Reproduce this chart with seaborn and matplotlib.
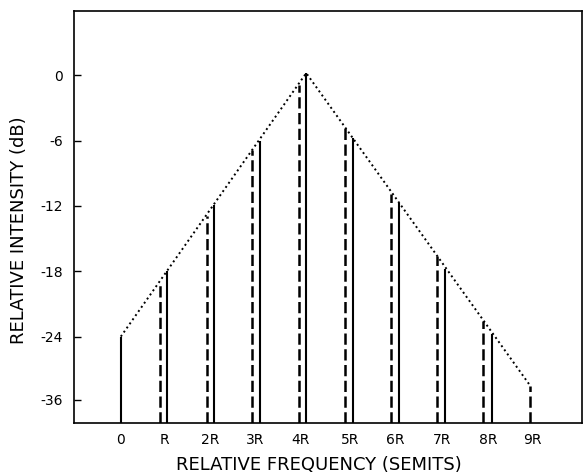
import numpy as np
import pandas as pd
import seaborn as sns
import matplotlib
matplotlib.use("Agg")
import matplotlib.pyplot as plt

# partial positions (in units of R) and levels in dB
solid_x = [0, 1, 2, 3, 4, 5, 6, 7, 8]
solid_db = [-24, -18, -11.9, -6, 0.2, -5.8, -11.7, -17.8, -23.8]
dashed_x = [0.84, 1.85, 2.84, 3.84, 4.83, 5.83, 6.83, 7.82, 8.83]
dashed_db = [-19, -12.9, -6.9, -0.9, -4.7, -10.9, -16.6, -22.6, -33.3]

# dotted envelope
env_x = [0, 4, 8.83]
env_db = [-24, 0.2, -33.3]

ytick_vals = [0, -6, -12, -18, -24, -36]
xtick_pos = [0, 0.95, 1.92, 2.9, 3.88, 4.95, 5.93, 6.92, 7.92, 8.87]
xtick_labels = ["0", "R", "2R", "3R", "4R", "5R", "6R", "7R", "8R", "9R"]

sns.set_theme(style="white")
plt.rcParams['font.family'] = ['DejaVu Sans']
plt.rcParams['text.color'] = 'black'
plt.rcParams['axes.labelcolor'] = 'black'
plt.rcParams['xtick.color'] = 'black'
plt.rcParams['ytick.color'] = 'black'

# broken axis below -24 dB (the -36 tick sits closer than linear)
k = 0.484


def fwd(y):
    y = np.asarray(y, dtype=float)
    return np.where(y >= -24, y, -24 + (y + 24) * k)


def inv(y):
    y = np.asarray(y, dtype=float)
    return np.where(y >= -24, y, -24 + (y + 24) / k)


fig = plt.figure(figsize=(5.85, 4.74), dpi=100)
ax = fig.add_axes([0.1265, 0.1076, 0.8684, 0.8692])
ax.set_yscale("function", functions=(fwd, inv))

ymin = -40.4
ax.vlines(solid_x, ymin, solid_db, colors="black", linewidth=1.5)
ax.vlines(dashed_x, ymin, dashed_db, colors="black", linewidth=1.8,
          linestyles=(0, (4.5, 1.8)))

env = pd.DataFrame({"x": env_x, "db": env_db})
sns.lineplot(data=env, x="x", y="db", ax=ax, color="black",
             linewidth=1.4, linestyle=(0, (1, 1.6)), sort=False)

ax.set_xlim(-1.01, 9.95)
ax.set_ylim(ymin, 5.9)

ax.set_yticks(ytick_vals)
ax.set_yticklabels([str(v) for v in ytick_vals])
ax.set_xticks(xtick_pos)
ax.set_xticklabels(xtick_labels)
ax.yaxis.set_minor_locator(matplotlib.ticker.NullLocator())
ax.tick_params(axis="y", direction="in", length=5, width=1, labelsize=10,
               pad=8, left=True)
ax.tick_params(axis="x", length=0, labelsize=10, pad=7)

for s in ax.spines.values():
    s.set_color("black")
    s.set_linewidth(1.2)

ax.set_xlabel("RELATIVE FREQUENCY (SEMITS)", fontsize=13)
ax.set_ylabel("RELATIVE INTENSITY (dB)", fontsize=13)
ax.xaxis.label.set_va("center")
ax.yaxis.label.set_va("center")
ax.xaxis.set_label_coords(0.482, -0.103)
ax.yaxis.set_label_coords(-0.108, 0.468)

fig.savefig("out.png", dpi=100)
